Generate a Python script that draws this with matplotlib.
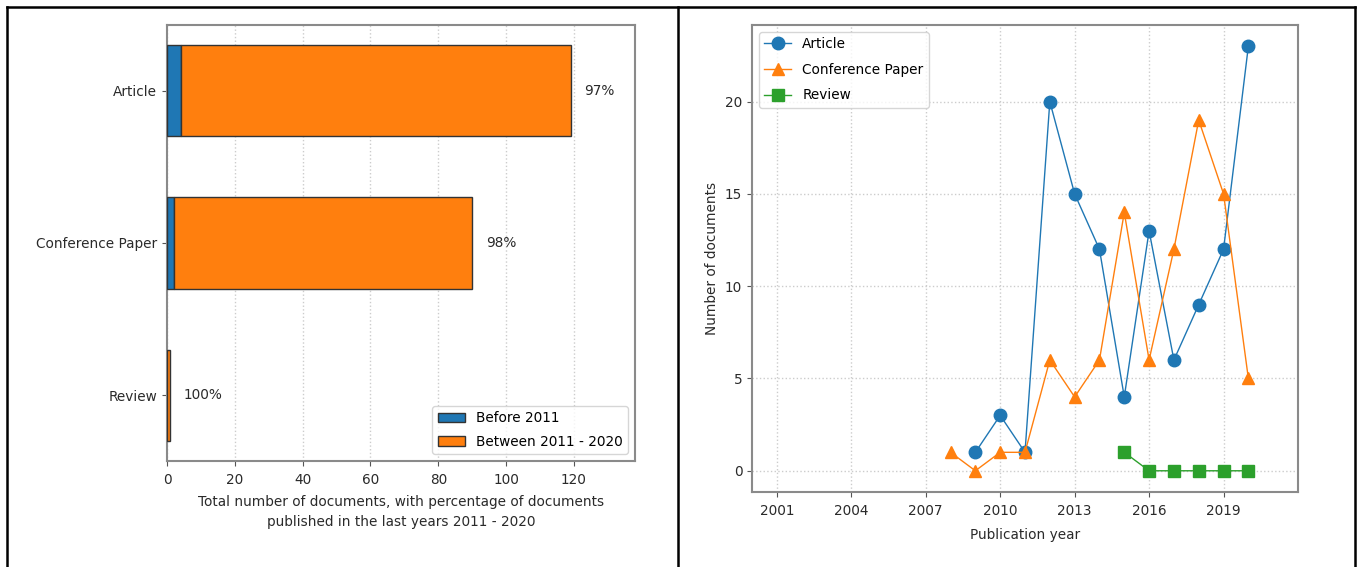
import numpy as np
import matplotlib.pyplot as plt
from matplotlib.lines import Line2D

# documents per publication year, by type
article_years = [2009, 2010, 2011, 2012, 2013, 2014, 2015, 2016, 2017, 2018, 2019, 2020]
article_counts = [1, 3, 1, 20, 15, 12, 4, 13, 6, 9, 12, 23]

conf_years = [2008, 2009, 2010, 2011, 2012, 2013, 2014, 2015, 2016, 2017, 2018, 2019, 2020]
conf_counts = [1, 0, 1, 1, 6, 4, 6, 14, 6, 12, 19, 15, 5]

review_years = [2015, 2016, 2017, 2018, 2019, 2020]
review_counts = [1, 0, 0, 0, 0, 0]

doc_types = ["Article", "Conference Paper", "Review"]
split_year = 2011


def split_counts(years, counts):
    years = np.array(years)
    counts = np.array(counts)
    before = counts[years < split_year].sum()
    after = counts[years >= split_year].sum()
    return before, after


series = [(article_years, article_counts), (conf_years, conf_counts), (review_years, review_counts)]
before = []
after = []
for yrs, cnt in series:
    b, a = split_counts(yrs, cnt)
    before.append(b)
    after.append(a)
before = np.array(before)
after = np.array(after)
total = before + after

plt.rcParams['font.family'] = 'DejaVu Sans'
plt.rcParams['font.size'] = 9.8

fig = plt.figure(figsize=(13.57, 5.67), dpi=100)
W, H = 1357, 567


def px_axes(x0, y0, x1, y1):
    return fig.add_axes([x0 / W, 1 - y1 / H, (x1 - x0) / W, (y1 - y0) / H])


def style_axes(ax):
    for s in ax.spines.values():
        s.set_color('#8a8a8a')
        s.set_linewidth(1.5)
    ax.tick_params(colors='#555555', labelcolor='#2a2a2a')
    ax.tick_params(axis='x', pad=5)


# ---- left: stacked horizontal bars ----
ax1 = px_axes(167, 25, 635, 461)
ypos = np.arange(len(doc_types))
ax1.barh(ypos, before, height=0.6, color='#1f77b4', edgecolor='#333333',
         linewidth=1, label='Before 2011', zorder=3)
ax1.barh(ypos, after, left=before, height=0.6, color='#ff7f0e', edgecolor='#333333',
         linewidth=1, label='Between 2011 - 2020', zorder=3)
for y, t, a in zip(ypos, total, after):
    ax1.text(t + 4, y, f"{round(100 * a / t):d}%", va='center', ha='left', color='#2a2a2a')
ax1.set_yticks(ypos)
ax1.set_yticklabels(doc_types)
ax1.invert_yaxis()
ax1.set_xlim(0, 138)
ax1.set_xticks(np.arange(0, 121, 20))
ax1.grid(axis='x', linestyle=':', color='#cccccc', linewidth=1, zorder=0)
ax1.set_xlabel("Total number of documents, with percentage of documents\n"
               "published in the last years 2011 - 2020", color='#2a2a2a',
               linespacing=1.5, labelpad=6)
ax1.legend(loc='lower right', labelspacing=0.7)
style_axes(ax1)

# ---- right: documents per year ----
ax2 = px_axes(752, 25, 1298, 492)
ax2.plot(article_years, article_counts, marker='o', markersize=9, linewidth=1,
         color='#1f77b4', label='Article')
ax2.plot(conf_years, conf_counts, marker='^', markersize=9, linewidth=1,
         color='#ff7f0e', label='Conference Paper')
ax2.plot(review_years, review_counts, marker='s', markersize=9, linewidth=1,
         color='#2ca02c', label='Review')
ax2.set_xlim(2000, 2022)
ax2.set_xticks(np.arange(2001, 2021, 3))
ax2.set_yticks(np.arange(0, 21, 5))
ax2.grid(True, linestyle=':', color='#cccccc', linewidth=1)
ax2.set_axisbelow(True)
ax2.set_xlabel("Publication year", color='#2a2a2a', labelpad=7)
ax2.set_ylabel("Number of documents", color='#2a2a2a')
ax2.legend(loc='upper left', labelspacing=0.85)
style_axes(ax2)

# table-like cell borders around the two panels
for xs, ys in [((7, 7), (7, H)), ((678, 678), (7, H)), ((1355, 1355), (7, H)), ((7, 1355), (7, 7))]:
    fig.add_artist(Line2D([x / W for x in xs], [1 - y / H for y in ys],
                          color='black', linewidth=1.8))

fig.savefig("out.png", dpi=100)
